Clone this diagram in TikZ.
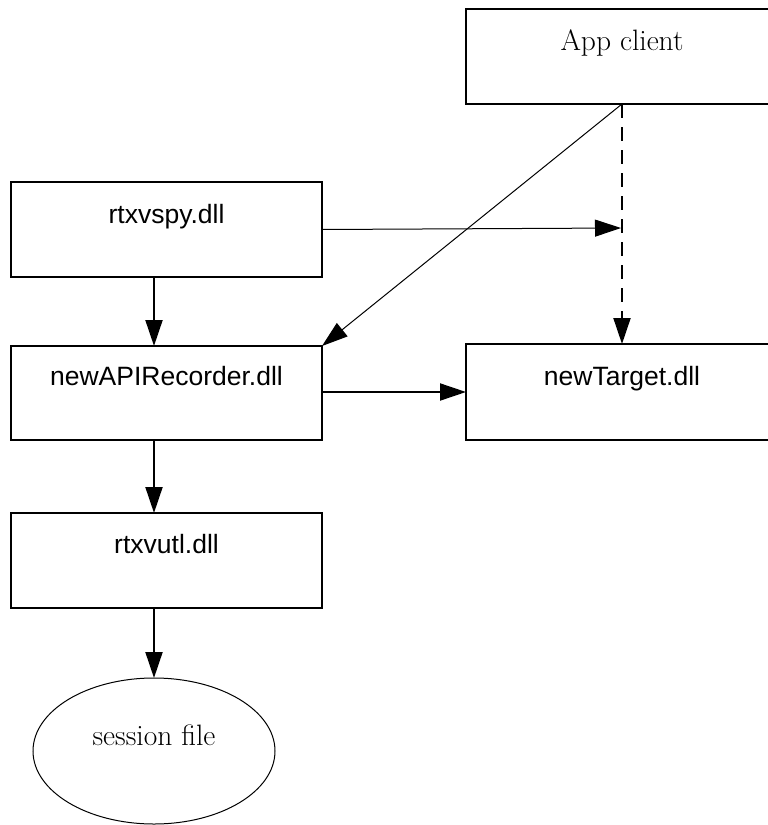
\documentclass[tikz,border=0pt]{standalone}
\usepackage{fontspec}
\newfontfamily\helv{Liberation Sans}
\usetikzlibrary{arrows.meta,shapes.geometric}
\tikzset{
  box/.style={draw, line width=2pt, rectangle, inner sep=0pt, outer sep=0pt},
  oval/.style={draw, line width=1pt, ellipse, inner sep=0pt, outer sep=0pt},
  sanslabel/.style={anchor=base, inner sep=0pt, font=\helv\fontsize{26.5}{30}\selectfont},
  seriflabel/.style={anchor=base, inner sep=0pt, font=\fontsize{29.5}{33}\selectfont},
  tip/.style={-{Triangle[length=26pt,width=17pt]}},
  thick arrow/.style={tip, line width=2pt},
  thin arrow/.style={tip, line width=1pt},
  dash arrow/.style={tip, line width=2pt, dash pattern=on 14pt off 9pt}
}
\begin{document}
\begin{tikzpicture}[x=1pt,y=-1pt]
  \useasboundingbox (0,0) rectangle (768,825);
  \clip (0,0) rectangle (768,825);

  % component boxes
  \node[box, minimum width=312pt, minimum height=95pt] (app) at (622,56.5) {};
  \node[box, minimum width=311pt, minimum height=95pt] (spy) at (166.5,229.5) {};
  \node[box, minimum width=311pt, minimum height=94pt] (rec) at (166.5,393) {};
  \node[box, minimum width=312pt, minimum height=96pt] (tgt) at (622,392) {};
  \node[box, minimum width=311pt, minimum height=95pt] (utl) at (166.5,560.5) {};
  \node[oval, minimum width=242pt, minimum height=146pt] (file) at (154,751) {};

  % labels
  \node[seriflabel] (appt) at (622,50) {App client};
  \node[sanslabel] (spyt) at (166.5,223) {rtxvspy.dll};
  \node[sanslabel] (rect) at (166.5,385) {newAPIRecorder.dll};
  \node[sanslabel] (tgtt) at (622,385) {newTarget.dll};
  \node[sanslabel] (utlt) at (166.5,553) {rtxvutl.dll};
  \node[seriflabel] (filet) at (154,745) {session file};

  % helper points
  \coordinate (ax) at (154,0);
  \coordinate (hook) at (621,228);

  % connectors
  \draw[thick arrow] (spy.south -| ax) -- (rec.north -| ax);
  \draw[thick arrow] (rec.south -| ax) -- (utl.north -| ax);
  \draw[thick arrow] (utl.south -| ax) -- (file.north);
  \draw[thick arrow] (rec.east |- tgt.west) -- (tgt.west);
  \draw[thin arrow] (spy.east) -- (hook);
  \draw[thin arrow] (app.south) -- (rec.north east);
  \draw[dash arrow] (app.south) -- (tgt.north);
\end{tikzpicture}
\end{document}
